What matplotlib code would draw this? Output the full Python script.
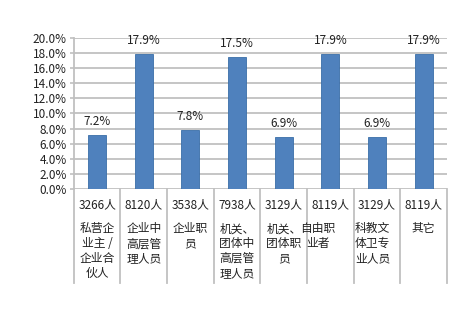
import matplotlib.pyplot as plt

plt.rcParams['font.family'] = ['Noto Sans CJK SC', 'DejaVu Sans']

values = [7.2, 17.9, 7.8, 17.5, 6.9, 17.9, 6.9, 17.9]
counts = ['3266人', '8120人', '3538人', '7938人', '3129人', '8119人', '3129人', '8119人']
names = ['私营企\n业主 /\n企业合\n伙人', '企业中\n高层管\n理人员', '企业职\n员',
         '机关、\n团体中\n高层管\n理人员', '机关、\n团体职\n员', '自由职\n业者',
         '科教文\n体卫专\n业人员', '其它']
# how each name block sits in its column: (alignment, x offset)
name_pos = [('center', 0), ('center', 0), ('center', 0), ('center', 0),
            ('left', -0.37), ('center', -0.27), ('left', -0.47), ('center', 0)]

fig = plt.figure(figsize=(4.76, 3.2), dpi=100)
ax = fig.add_axes([0.155, 0.409, 0.784, 0.473])

x = list(range(len(values)))
ax.bar(x, values, width=0.39, color='#4F81BD', edgecolor='#3A6EA8', linewidth=0.6, zorder=3)

for i, v in enumerate(values):
    ax.text(i, v + 0.9, '%.1f%%' % v, ha='center', va='bottom', fontsize=8.5, color='#222222')

ax.set_xlim(-0.5, len(values) - 0.5)
ax.set_ylim(0, 20)
ax.set_yticks([i * 2 for i in range(11)])
ax.set_yticklabels(['%.1f%%' % (i * 2) for i in range(11)], fontsize=8.5, color='#222222')
ax.yaxis.grid(True, color='#C0C0C0', linewidth=1.3, zorder=0)
ax.tick_params(axis='y', length=3, width=1.2, color='#C0C0C0', pad=2)
ax.set_xticks([])
for s in ['top', 'right', 'bottom']:
    ax.spines[s].set_visible(False)
ax.spines['left'].set_color('#C0C0C0')
ax.spines['left'].set_linewidth(1.3)

tr = ax.get_xaxis_transform()
for k in range(len(values) + 1):
    ax.plot([k - 0.5, k - 0.5], [0, -0.62], transform=tr, color='#C0C0C0', lw=1.3, clip_on=False)

for i in range(len(values)):
    ax.text(i, -0.105, counts[i], transform=tr, ha='center', va='center', fontsize=8.5, color='#222222')
    ha, dx = name_pos[i]
    ax.text(i + dx, -0.22, names[i], transform=tr, ha=ha, va='top', fontsize=8.5,
            color='#222222', linespacing=1.18, multialignment='left' if i == 6 else 'center')

fig.savefig('out.png', dpi=100)
